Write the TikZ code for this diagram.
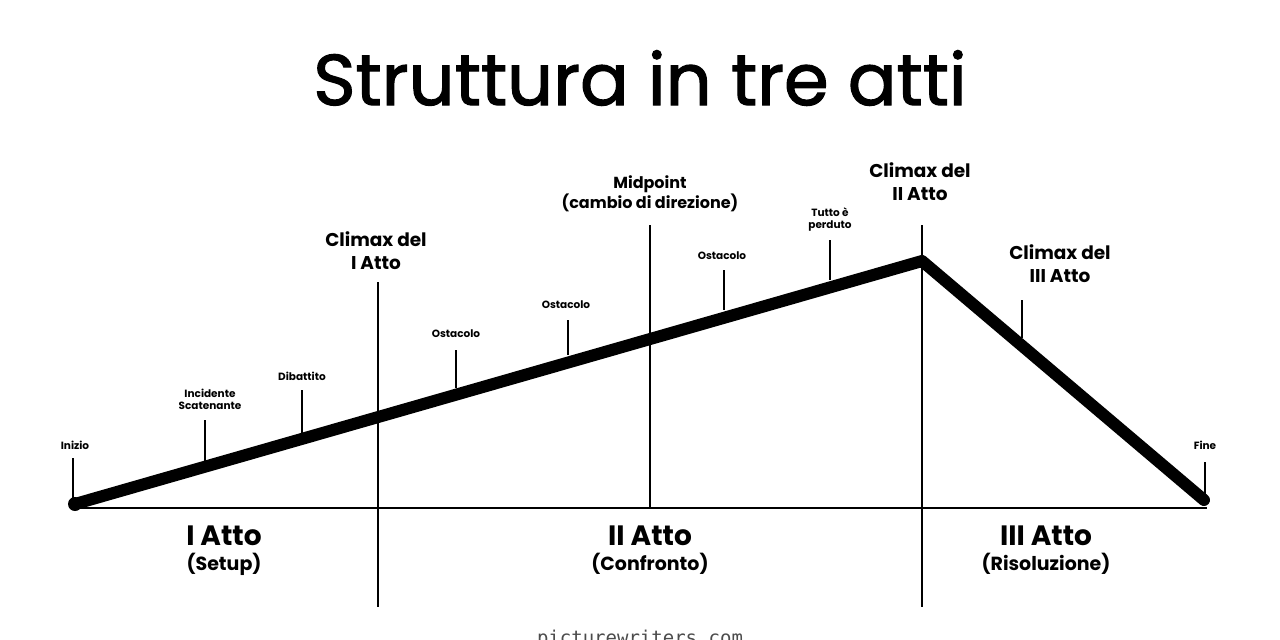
\documentclass[tikz,border=0pt]{standalone}
\usepackage{fontspec}
\setmainfont{Poppins}
\setmonofont{DejaVu Sans Mono}
\newfontfamily\titlefont[FakeBold=1.6]{Poppins}
\begin{document}
\begin{tikzpicture}[x=1pt,y=-1pt,
  thin line/.style={line width=2.4pt},
  arc line/.style={line width=12pt,line cap=round,line join=round},
  tick/.style={line width=2.2pt},
  small/.style={font=\fontsize{10.5}{12}\selectfont\bfseries,align=center,inner sep=0pt},
  mid/.style={font=\fontsize{18.5}{23}\selectfont\bfseries,align=center,inner sep=0pt},
  midp/.style={font=\fontsize{16}{19.5}\selectfont\bfseries,align=center,inner sep=0pt},
  act/.style={font=\fontsize{28}{30}\selectfont\bfseries,inner sep=0pt},
  sub/.style={font=\fontsize{19}{21}\selectfont\bfseries,inner sep=0pt}]
\useasboundingbox (0,0) rectangle (1280,640);
\node[font=\titlefont\fontsize{72}{78}\selectfont,inner sep=0pt] (title) at (640,78) {Struttura in tre atti};
% base line
\coordinate (b0) at (74,508);
\coordinate (b1) at (1207,508);
\draw[thin line] (b0) -- (b1);
% acts separators
\coordinate (v1t) at (378,282); \coordinate (v1b) at (378,607);
\coordinate (v2t) at (650,225); \coordinate (v2b) at (650,508);
\coordinate (v3t) at (922,225); \coordinate (v3b) at (922,607);
\draw[thin line] (v1t) -- (v1b);
\draw[thin line] (v2t) -- (v2b);
\draw[thin line] (v3t) -- (v3b);
% ticks
\coordinate (t1a) at (73,458); \coordinate (t1b) at (73,504);
\coordinate (t2a) at (205,420); \coordinate (t2b) at (205,462);
\coordinate (t3a) at (302,390); \coordinate (t3b) at (302,433);
\coordinate (t4a) at (456,350); \coordinate (t4b) at (456,388);
\coordinate (t5a) at (568,320); \coordinate (t5b) at (568,355);
\coordinate (t6a) at (724,270); \coordinate (t6b) at (724,310);
\coordinate (t7a) at (830,240); \coordinate (t7b) at (830,280);
\coordinate (t8a) at (1022,300); \coordinate (t8b) at (1022,338);
\coordinate (t9a) at (1205,462); \coordinate (t9b) at (1205,502);
\foreach \i in {1,...,9} {\draw[tick] (t\i a) -- (t\i b);}
% main arc
\coordinate (start) at (75,504);
\coordinate (peak) at (922,261);
\coordinate (end) at (1204,500);
\draw[arc line] (start) -- (peak) -- (end);
\fill (start) circle (7pt);
% labels
\node[small] (l1) at (75,445) {Inizio};
\node[small] (l2) at (210,399) {Incidente\\Scatenante};
\node[small] (l3) at (302,376) {Dibattito};
\node[small] (l4) at (456,334) {Ostacolo};
\node[small] (l5) at (566,305) {Ostacolo};
\node[small] (l6) at (722,256) {Ostacolo};
\node[small] (l7) at (830,220) {Tutto è\\perduto};
\node[small] (l9) at (1205,445) {Fine};
\node[mid] (m1) at (376,251) {Climax del\\I Atto};
\node[midp] (m2) at (650,194) {Midpoint\\(cambio di direzione)};
\node[mid] (m3) at (920,182) {Climax del\\II Atto};
\node[mid] (m4) at (1060,264) {Climax del\\III Atto};
\node[act] (a1) at (224,536) {I Atto};
\node[sub] (s1) at (224,564) {(Setup)};
\node[act] (a2) at (650,536) {II Atto};
\node[sub] (s2) at (650,564) {(Confronto)};
\node[act] (a3) at (1046,536) {III Atto};
\node[sub] (s3) at (1046,564) {(Risoluzione)};
\begin{scope}
\clip (0,0) rectangle (1280,640);
\node[font=\ttfamily\fontsize{19}{20}\selectfont,anchor=north,inner sep=0pt,text=black!70] (wm) at (640,630) {picturewriters.com};
\end{scope}
\end{tikzpicture}
\end{document}
